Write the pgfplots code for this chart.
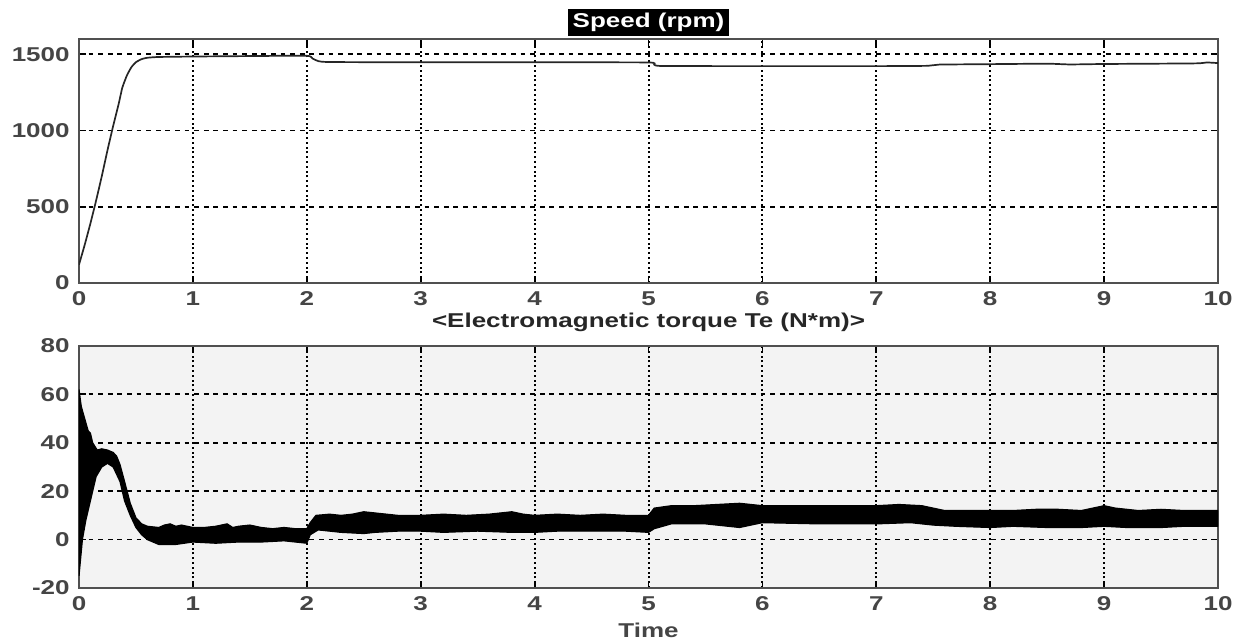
\documentclass[border=0pt]{standalone}
\usepackage{fontspec}
\setmainfont{Liberation Sans}[FakeStretch=1.3]
\usepackage{pgfplots}
\pgfplotsset{compat=1.18}
\definecolor{axgray}{HTML}{505050}
\definecolor{tickgray}{HTML}{454545}
\definecolor{bggray}{HTML}{F3F3F3}
\pgfplotsset{
  common/.style={
    scale only axis,
    width=569.5pt,
    xmin=0, xmax=10,
    xtick={0,1,...,10},
    axis line style={axgray, line width=1.1pt},
    tick style={black, line width=0.9pt},
    major tick length=3.5pt,
    tick align=inside,
    grid=major,
    x grid style={black, line width=1pt, dash pattern=on 1pt off 1.4pt},
    y grid style={black, line width=0.9pt, dash pattern=on 2.4pt off 2.4pt},
    /pgf/number format/assume math mode=true,
    /pgf/number format/set thousands separator={},
    ticklabel style={font=\fontsize{10}{12}\selectfont\bfseries, text=tickgray, inner sep=0pt},
    xticklabel style={yshift=-4pt},
    yticklabel style={xshift=-4.5pt},
    clip=true,
  }
}
\begin{document}
\begin{tikzpicture}[x=1pt,y=1pt]
\useasboundingbox (0,0) rectangle (620,320);
% Top axis: speed
\begin{axis}[common,
  at={(39.5pt,178.5pt)}, anchor=south west,
  height=122pt,
  ymin=0, ymax=1600,
  ytick={0,500,1000,1500},
  title={Speed (rpm)},
  title style={at={(0.5,1)}, anchor=south, yshift=-4.75pt, fill=black, text=white,
    inner xsep=2.5pt, inner ysep=2pt, font=\fontsize{10}{12}\selectfont\bfseries},
]
\addplot[black!85, line width=0.85pt, smooth, tension=0.3] coordinates {
(0,120) (0.05,250) (0.1,390) (0.15,540) (0.2,700) (0.25,870) (0.3,1030)
(0.35,1180) (0.38,1280) (0.42,1360) (0.46,1415) (0.5,1448) (0.55,1468)
(0.6,1477) (0.7,1482) (1.0,1485) (1.5,1488) (2.0,1490) (2.05,1472)
(2.1,1455) (2.2,1449) (3,1447) (4,1447) (5,1446) (5.05,1432) (5.12,1423)
(6,1422) (7,1422) (7.45,1424) (7.55,1432) (8,1435) (8.5,1438) (8.7,1433)
(9,1436) (9.8,1440) (9.9,1446) (10,1442)
};
\end{axis}
% Bottom axis: torque
\begin{axis}[common,
  at={(39.5pt,26pt)}, anchor=south west,
  height=121pt,
  ymin=-20, ymax=80,
  ytick={-20,0,20,40,60,80},
  axis background/.style={fill=bggray},
  title={<Electromagnetic torque Te (N*m)>},
  title style={at={(0.5,1)}, anchor=south, yshift=1pt, inner sep=0pt,
    font=\fontsize{10}{12}\selectfont\bfseries, text=black!85},
  xlabel={Time},
  xlabel style={at={(axis description cs:0.5,0)}, anchor=north, inner sep=0pt,
    yshift=-17.5pt, font=\fontsize{10}{12}\selectfont\bfseries, text=tickgray},
]
\addplot[fill=black, draw=black, line width=0.6pt] coordinates {
(0,62) (0.02,55) (0.05,50) (0.08,45) (0.1,44) (0.12,40) (0.16,37) (0.2,37.5)
(0.25,37) (0.3,36) (0.33,34.5) (0.36,31) (0.4,24) (0.45,15) (0.5,9)
(0.55,6.5) (0.6,5.5) (0.7,5) (0.75,6) (0.8,6.5) (0.85,5.5) (0.9,6) (1.0,5) (1.1,5)
(1.2,5.5) (1.3,6.5) (1.35,5) (1.4,5.5) (1.5,6) (1.6,5) (1.7,4.5) (1.8,5)
(1.9,4.5) (2.0,4.5) (2.03,7) (2.08,10) (2.2,10.5) (2.3,10) (2.4,10.5) (2.5,11.5)
(2.6,11) (2.8,10) (3.0,10) (3.2,10.5) (3.4,10) (3.6,10.5) (3.8,11.5)
(3.9,10.5) (4.0,10) (4.2,10.5) (4.4,10) (4.6,10.5) (4.8,10) (5.0,10) (5.05,13) (5.2,14)
(5.4,14) (5.6,14.5) (5.8,15) (6.0,14) (6.2,14) (6.5,14) (6.8,14) (7.0,14)
(7.2,14.5) (7.4,14) (7.5,13) (7.6,12) (7.8,12) (8.0,12) (8.2,12) (8.4,12.5)
(8.6,12.5) (8.8,12) (9.0,14) (9.1,13) (9.3,12) (9.5,12.5) (9.7,12) (10,12)
(10,5.5) (9.7,5.5) (9.5,5) (9.2,5) (9.0,5.5) (8.8,5) (8.5,5) (8.2,5.5)
(8.0,5) (7.7,5.5) (7.5,6) (7.3,7) (7.0,6.5) (6.5,6.5) (6.0,7) (5.8,5)
(5.5,6.5) (5.2,6.5) (5.05,4.5) (5.0,3) (4.8,3.5) (4.5,3.5) (4.2,3.5)
(4.0,3) (3.8,3) (3.5,3.5) (3.2,3) (3.0,3.5) (2.8,3.5) (2.6,3) (2.5,2.5)
(2.3,3) (2.1,4) (2.03,2) (2.0,-1.5) (1.8,-0.5) (1.6,-1) (1.4,-1) (1.2,-1.5)
(1.0,-1) (0.85,-2) (0.7,-2) (0.6,0) (0.55,2) (0.5,5) (0.45,10) (0.4,16)
(0.36,24) (0.3,30) (0.25,31.5) (0.2,30) (0.15,26) (0.1,16) (0.06,8)
(0.03,0) (0.01,-10) (0,-15)
} -- cycle;
\end{axis}
\end{tikzpicture}
\end{document}
